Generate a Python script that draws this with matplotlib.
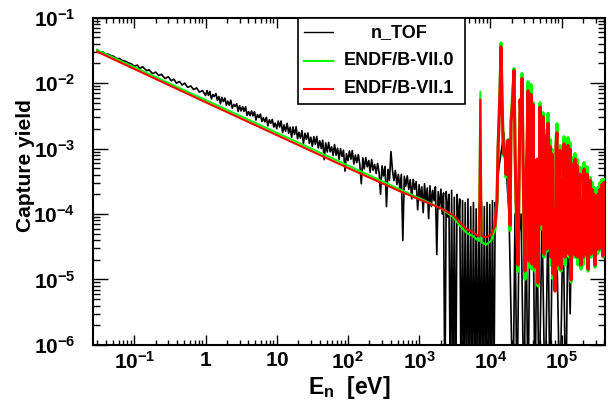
import numpy as np
import matplotlib
matplotlib.use('Agg')
import matplotlib.pyplot as plt
from matplotlib.ticker import LogLocator, NullFormatter
from matplotlib.lines import Line2D
from matplotlib.patches import Rectangle

plt.rcParams['font.family'] = ['Liberation Sans', 'DejaVu Sans']
plt.rcParams['font.weight'] = 'bold'
plt.rcParams['mathtext.fontset'] = 'custom'
plt.rcParams['mathtext.rm'] = 'Liberation Sans:bold'
plt.rcParams['mathtext.bf'] = 'Liberation Sans:bold'
plt.rcParams['mathtext.it'] = 'Liberation Sans:bold'
plt.rcParams['mathtext.default'] = 'bf'

# ---------------- data (neutron energy in eV, capture yield) ----------------
# n_TOF measurement
NTOF_E = [
    0.030, 0.033, 0.036, 0.039, 0.043, 0.047, 0.051, 0.056, 0.062, 0.068, 0.075, 0.082, 0.091,
    0.10, 0.11, 0.12, 0.13, 0.15, 0.16, 0.18, 0.20, 0.22, 0.24, 0.27, 0.30, 0.33, 0.36, 0.39,
    0.43, 0.47, 0.51, 0.56, 0.62, 0.68, 0.75, 0.82, 0.91,
    1.00, 1.05, 1.10, 1.15, 1.21, 1.27, 1.33, 1.40, 1.47, 1.54, 1.62, 1.69, 1.78, 1.87, 1.96, 2.05,
    2.15, 2.26, 2.37, 2.49, 2.61, 2.74, 2.87, 3.01, 3.16, 3.32, 3.48, 3.65, 3.83, 4.02, 4.22, 4.42,
    4.64, 4.87, 5.11, 5.36, 5.62, 5.90, 6.19, 6.49, 6.81, 7.15, 7.50, 7.87, 8.25, 8.66, 9.09, 9.53,
    10.0, 10.5, 11.0, 11.5, 12.1, 12.7, 13.3, 14.0, 14.7, 15.4, 16.2, 16.9, 17.8, 18.7, 19.6, 20.5,
    21.5, 22.6, 23.7, 24.9, 26.1, 27.4, 28.7, 30.1, 31.6, 33.2, 34.8, 36.5, 38.3, 40.2, 42.2, 44.2,
    46.4, 48.7, 51.1, 53.6, 56.2, 59.0, 61.9, 64.9, 68.1, 71.5, 75.0, 78.7, 82.5, 86.6, 90.9, 95.3,
    100, 105, 110, 115, 121, 127, 133, 140, 147, 154, 162, 169, 178, 187, 196, 205,
    215, 226, 237, 249, 261, 274, 287, 301, 316, 332, 348, 365, 383, 402, 422, 442,
    464, 487, 511, 536, 562, 590, 619, 649, 681, 715, 750, 787, 825, 866, 909, 953,
    1000, 1045, 1090, 1140, 1190, 1245, 1300, 1360, 1420, 1485, 1550, 1620, 1690, 1770, 1850,
    1930, 2020, 2110, 2200, 2300, 2400, 2510, 2620, 2740, 2860, 2990, 3120, 3260, 3410, 3560,
    3720, 3890, 4070, 4250, 4440, 4640, 4850, 5070, 5300, 5540, 5790, 6050, 6320, 6600, 6900,
    7210, 7530, 7870, 8230, 8600, 8990, 9390, 9810, 10250, 10710, 11190, 11700, 12200,
    12800, 15500, 18300, 20800, 22200, 23700, 25300, 27000, 29700, 31700,
    33800, 36000, 38000, 40000, 42400, 45200, 48300, 53200, 58600, 64600,
    68900, 75000, 85000, 95100, 104800, 115000, 123000, 132000, 140000,
    200000, 300000, 400000,
]
NTOF_Y = [
    0.0324, 0.0300, 0.0298, 0.0281, 0.0276, 0.0262, 0.0257, 0.0238, 0.0236, 0.0221, 0.0215, 0.0204, 0.0196,
    0.0180, 0.0188, 0.0166, 0.0178, 0.0154, 0.0160, 0.0139, 0.0147, 0.0130, 0.0136, 0.0117, 0.0125,
    0.01085, 0.01146, 0.00991, 0.01056, 0.00933, 0.00998, 0.00858, 0.00903, 0.00794, 0.00843,
    0.00727, 0.00768,
    6.44e-3, 7.68e-3, 6.47e-3, 7.47e-3, 5.72e-3, 6.66e-3, 6.20e-3, 6.90e-3, 5.43e-3, 6.22e-3,
    4.83e-3, 6.05e-3, 5.20e-3, 5.91e-3, 4.60e-3, 5.29e-3, 4.59e-3, 5.47e-3, 4.13e-3, 4.72e-3,
    4.38e-3, 4.84e-3, 3.68e-3, 4.49e-3, 3.74e-3, 4.36e-3, 3.69e-3, 4.34e-3, 3.21e-3, 3.67e-3,
    3.17e-3, 3.75e-3, 3.15e-3, 3.66e-3, 2.72e-3, 3.31e-3, 2.96e-3, 3.35e-3, 2.58e-3, 2.95e-3,
    2.55e-3, 3.00e-3, 2.22e-3, 2.75e-3, 2.43e-3, 2.79e-3, 2.13e-3, 2.45e-3,
    2.00e-3, 2.63e-3, 2.13e-3, 2.63e-3, 1.75e-3, 2.29e-3, 1.84e-3, 2.43e-3, 1.71e-3, 2.12e-3,
    1.47e-3, 2.14e-3, 1.64e-3, 2.15e-3, 1.41e-3, 1.77e-3, 1.44e-3, 1.87e-3, 1.19e-3, 1.71e-3,
    1.38e-3, 1.73e-3, 1.20e-3, 1.49e-3, 1.08e-3, 1.52e-3, 1.16e-3, 1.53e-3, 1.02e-3, 1.31e-3,
    1.00e-3, 1.34e-3, 6.76e-4, 1.22e-3, 8.84e-4, 1.24e-3, 8.91e-4, 1.06e-3, 7.84e-4, 1.15e-3,
    7.93e-4, 1.01e-3, 6.86e-4, 1.00e-3, 7.54e-4, 9.44e-4, 4.51e-4, 8.36e-4,
    6.54e-4, 9.19e-4, 6.84e-4, 9.30e-4, 5.80e-4, 7.93e-4, 6.09e-4, 8.09e-4, 5.59e-4, 2.90e-4,
    7.20e-4, 4.90e-4, 7.28e-4, 5.25e-4, 6.56e-4, 4.34e-4, 6.80e-4, 4.67e-4, 5.70e-4, 4.15e-4,
    5.92e-4, 4.33e-4, 2.00e-4, 5.43e-4, 3.81e-4, 5.34e-4, 1.30e-4, 4.81e-4, 3.26e-4, 9.00e-4,
    4.67e-4, 3.23e-4, 4.63e-4, 2.82e-4, 4.05e-4, 2.42e-4, 4.03e-4, 3.94e-5, 3.78e-4, 2.66e-4,
    3.83e-4, 2.39e-4, 3.35e-4, 1.70e-4, 3.39e-4, 2.38e-4, 3.12e-4, 1.16e-4,
    2.8e-4, 1.6e-4, 2.6e-4, 1.05e-4, 2.9e-4, 1.5e-4, 2.5e-4, 8.5e-5, 2.7e-4, 1.3e-4,
    2.3e-4, 1.6e-4, 2.6e-4, 2.4e-5, 2.2e-4, 1.2e-4, 2.4e-4, 1.0e-4, 2.1e-4, 1e-7,
    2.2e-4, 9e-5, 2.0e-4, 1e-7, 2.3e-4, 1e-7, 1.8e-4, 1e-7, 2.0e-4, 7e-5,
    1.7e-4, 1e-7, 1.6e-4, 1e-7, 1.5e-4, 1e-7, 1.7e-4, 1e-7, 1.3e-4, 1e-7,
    1.5e-4, 1e-7, 1.2e-4, 1e-7, 1.4e-4, 1e-7, 1.5e-4, 1e-7, 1.3e-4, 1e-7,
    1.5e-4, 1e-7, 1.4e-4, 1e-7, 1.6e-4, 1e-7, 1.5e-4, 1e-4,
    4e-4, 1.75e-3, 1e-4, 1e-7, 1e-4, 1e-7, 5e-5, 1e-4, 1e-7, 1e-4,
    1e-7, 1e-4, 1e-4, 1e-4, 1e-7, 1e-4, 1e-7, 1e-4, 1e-7, 1e-4,
    1e-7, 1e-4, 5e-5, 1e-7, 1e-4, 1e-7, 1e-4, 3e-6, 1e-4,
    1e-4, 1e-4, 1e-4,
]

# evaluated libraries (same energy grid)
ENDF_E = [
    0.03, 1, 100, 540, 1000, 2000, 3000, 3750, 4700, 5710, 6700, 6940, 7240, 7520, 8700, 10300, 11640,
    12420, 12830, 13250, 13690, 14140, 14600, 15080, 15580, 16090, 16620, 17170, 17730, 18310, 18910,
    19530, 20180, 20840, 21530, 22230, 22960, 23710, 24490, 25300, 26130, 26990, 27870, 28790, 29740,
    30720, 31720, 32770, 33850, 34960, 36110, 37290, 38520, 39790, 41100, 42450, 43850, 45290, 46770,
    48310, 49890, 51530, 53230, 54980, 56790, 58660, 60590, 62580, 64640, 66760, 68960, 71230, 73570,
    75990, 78490, 81070, 83740, 86490, 89330, 92270, 95300, 98400, 101600, 105000, 108400, 112000,
    115700, 119500, 123400, 127500, 131600, 135900, 140400, 145000, 149800, 154700, 159800, 165100,
    170500, 176100, 181900, 187900, 194100, 200500, 207000, 213800, 220900, 228100, 235600, 243400,
    251400, 259600, 268200, 277000, 286100, 295500, 305200, 315200, 325600, 336300, 347300, 358800,
    370600, 382800, 395400, 408300,
]
ENDF70_Y = [
    0.0318, 5.5e-3, 5.5e-4, 2.37e-4, 1.75e-4, 1.23e-4, 9.0e-5, 6.6e-5, 5.1e-5, 4.6e-5, 3.95e-5, 3.9e-5,
    7.4e-3, 3.7e-5, 3.4e-5, 3.9e-5, 5.85e-5,
    1.51e-4, 1.035e-3, 2.86e-3, 8.48e-3, 0.0410, 5.57e-3, 1.37e-3, 7.56e-4, 9.00e-4, 3.62e-4,
    1.035e-3, 1.37e-3, 2.00e-4, 5.65e-5, 2.76e-3, 4.68e-3, 8.48e-3, 0.01667, 9.66e-4, 1.41e-4,
    4.91e-5, 1.34e-5, 3.15e-4, 5.57e-3, 2.76e-3, 0.0140, 6.81e-4, 4.91e-5, 1.01e-5, 3.38e-4,
    1.035e-3, 0.01047, 1.54e-5, 9.66e-4, 9.52e-3, 1.44e-5, 5.01e-3, 4.91e-5, 1.34e-5, 1.67e-4,
    6.87e-4, 7.94e-6, 1.41e-4, 5.01e-3, 5.85e-5, 6.81e-4, 3.53e-3, 2.19e-5, 3.38e-4, 1.88e-3,
    2.70e-5, 3.45e-3, 2.90e-5, 1.39e-3, 1.66e-5, 9.75e-4, 1.01e-5, 7.74e-5, 6.66e-6, 1.33e-3,
    2.40e-3, 1.44e-5, 1.67e-4, 1.11e-3, 1.34e-5, 3.62e-4, 2.19e-5, 1.52e-3, 1.66e-5, 2.38e-4,
    2.43e-5, 1.47e-3, 2.19e-5, 1.23e-3, 9.13e-6, 2.38e-4, 7.29e-4, 2.19e-5, 8.39e-4, 2.19e-5,
    6.87e-4, 1.66e-5, 1.67e-4, 5.14e-4, 1.44e-5, 2.00e-4, 1.66e-5, 6.12e-4, 2.19e-5, 2.00e-4,
    5.32e-4, 1.34e-5, 2.38e-4, 3.62e-4, 2.19e-5, 3.04e-4, 2.70e-5, 2.55e-4, 1.54e-5, 2.14e-4,
    2.43e-5, 2.55e-4, 2.70e-5, 3.04e-4, 2.90e-5, 3.38e-4, 2.19e-5, 3.38e-4, 5.46e-5,
]
ENDF71_Y = [
    0.0302, 5.1e-3, 5.05e-4, 2.22e-4, 1.68e-4, 1.23e-4, 9.6e-5, 7.4e-5, 5.8e-5, 5.3e-5, 4.6e-5, 4.5e-5,
    5.6e-3, 4.6e-5, 4.4e-5, 4.8e-5, 6.73e-5,
    1.67e-4, 9.66e-4, 2.67e-3, 7.91e-3, 0.0357, 5.57e-3, 1.37e-3, 8.11e-4, 9.66e-4, 4.02e-4,
    9.66e-4, 1.33e-3, 2.38e-4, 6.73e-5, 2.49e-3, 3.93e-3, 7.63e-3, 0.01555, 9.66e-4, 1.67e-4,
    5.85e-5, 1.66e-5, 3.38e-4, 5.57e-3, 2.76e-3, 0.01175, 6.81e-4, 5.85e-5, 1.34e-5, 3.38e-4,
    9.66e-4, 7.63e-3, 1.91e-5, 9.66e-4, 6.70e-3, 1.71e-5, 4.72e-3, 5.85e-5, 1.54e-5, 1.67e-4,
    6.87e-4, 8.81e-6, 1.67e-4, 4.31e-3, 6.97e-5, 6.81e-4, 3.07e-3, 2.43e-5, 3.38e-4, 1.58e-3,
    2.90e-5, 2.43e-3, 3.46e-5, 1.07e-3, 2.19e-5, 8.19e-4, 1.21e-5, 8.30e-5, 6.66e-6, 1.11e-3,
    1.75e-3, 1.66e-5, 1.67e-4, 9.33e-4, 1.44e-5, 3.38e-4, 2.43e-5, 1.19e-3, 2.19e-5, 2.38e-4,
    2.90e-5, 1.12e-3, 2.43e-5, 9.75e-4, 9.79e-6, 2.38e-4, 5.77e-4, 2.43e-5, 6.87e-4, 2.27e-5,
    5.51e-4, 2.19e-5, 1.67e-4, 4.06e-4, 1.66e-5, 1.67e-4, 2.19e-5, 4.84e-4, 2.43e-5, 1.67e-4,
    4.06e-4, 1.44e-5, 1.67e-4, 3.26e-4, 2.43e-5, 2.38e-4, 2.90e-5, 2.00e-4, 1.66e-5, 1.67e-4,
    2.90e-5, 2.00e-4, 2.90e-5, 2.38e-4, 3.46e-5, 2.83e-4, 2.27e-5, 3.04e-4, 5.85e-5,
]
SERIES_LABELS = ['n_TOF', 'ENDF/B-VII.0', 'ENDF/B-VII.1']

X_TICKS = [0.1, 1, 10, 100, 1e3, 1e4, 1e5]
X_TICK_LABELS = [r'$10^{-1}$', r'$1$', r'$10$', r'$10^{2}$', r'$10^{3}$', r'$10^{4}$', r'$10^{5}$']
Y_TICKS = [1e-6, 1e-5, 1e-4, 1e-3, 1e-2, 1e-1]
Y_TICK_LABELS = [r'$10^{-6}$', r'$10^{-5}$', r'$10^{-4}$', r'$10^{-3}$', r'$10^{-2}$', r'$10^{-1}$']

# ---------------- figure ----------------
fig = plt.figure(figsize=(6.08, 4.01), dpi=100)
ax = fig.add_axes([0.1535, 0.1397, 0.8416, 0.8165])
ax.set_xscale('log')
ax.set_yscale('log')

ax.plot(NTOF_E, NTOF_Y, color='black', lw=1.2, zorder=2)
# smooth (1/v) part drawn with ROOT's normal width, dense resonance part a bit heavier
N_SMOOTH = 17
ax.plot(ENDF_E[:N_SMOOTH], ENDF70_Y[:N_SMOOTH], color='#00ff00', lw=1.5, zorder=3)
ax.plot(ENDF_E[N_SMOOTH - 1:], ENDF70_Y[N_SMOOTH - 1:], color='#00ff00', lw=2.2, zorder=3)
ax.plot(ENDF_E[:N_SMOOTH], ENDF71_Y[:N_SMOOTH], color='#ff0000', lw=1.5, zorder=4)
ax.plot(ENDF_E[N_SMOOTH - 1:], ENDF71_Y[N_SMOOTH - 1:], color='#ff0000', lw=2.2, zorder=4)

ax.set_xlim(0.02655, 4.08e5)
ax.set_ylim(1e-6, 1e-1)

ax.set_xticks(X_TICKS, X_TICK_LABELS)
ax.set_yticks(Y_TICKS, Y_TICK_LABELS)
ax.xaxis.set_minor_locator(LogLocator(base=10, subs=np.arange(2, 10), numticks=100))
ax.yaxis.set_minor_locator(LogLocator(base=10, subs=np.arange(2, 10), numticks=100))
ax.xaxis.set_minor_formatter(NullFormatter())
ax.yaxis.set_minor_formatter(NullFormatter())

ax.tick_params(axis='both', which='both', direction='in', top=True, right=True, width=1.0)
ax.tick_params(axis='x', which='major', length=7, pad=4.5, labelsize=15)
ax.tick_params(axis='x', which='minor', length=3.5)
ax.tick_params(axis='y', which='major', length=10.8, pad=13, labelsize=15)
ax.tick_params(axis='y', which='minor', length=5)
for s in ax.spines.values():
    s.set_linewidth(1.5)

ax.set_xlabel(r'$E_{n}$  [eV]', fontsize=16.5, fontweight='bold')
ax.xaxis.set_label_coords(0.5, -0.088)
ax.set_ylabel('Capture yield', fontsize=15, fontweight='bold')
ax.yaxis.set_label_coords(-0.114, 0.548)

# legend box (ROOT style)
ax.add_patch(Rectangle((0.400, 0.736), 0.3264, 0.264, transform=ax.transAxes,
                       facecolor='white', edgecolor='black', lw=1.2, zorder=5))
leg_colors = ['black', '#00ff00', '#ff0000']
leg_widths = [1.0, 1.5, 1.5]
leg_y = [0.955, 0.868, 0.782]
for lab, c, w, yy in zip(SERIES_LABELS, leg_colors, leg_widths, leg_y):
    ax.add_line(Line2D([0.412, 0.468], [yy, yy], transform=ax.transAxes, color=c, lw=w, zorder=6))
    ax.text(0.598, yy, lab, transform=ax.transAxes, ha='center', va='center',
            fontsize=13, fontweight='bold', zorder=6)

fig.savefig('out.png', dpi=100)
